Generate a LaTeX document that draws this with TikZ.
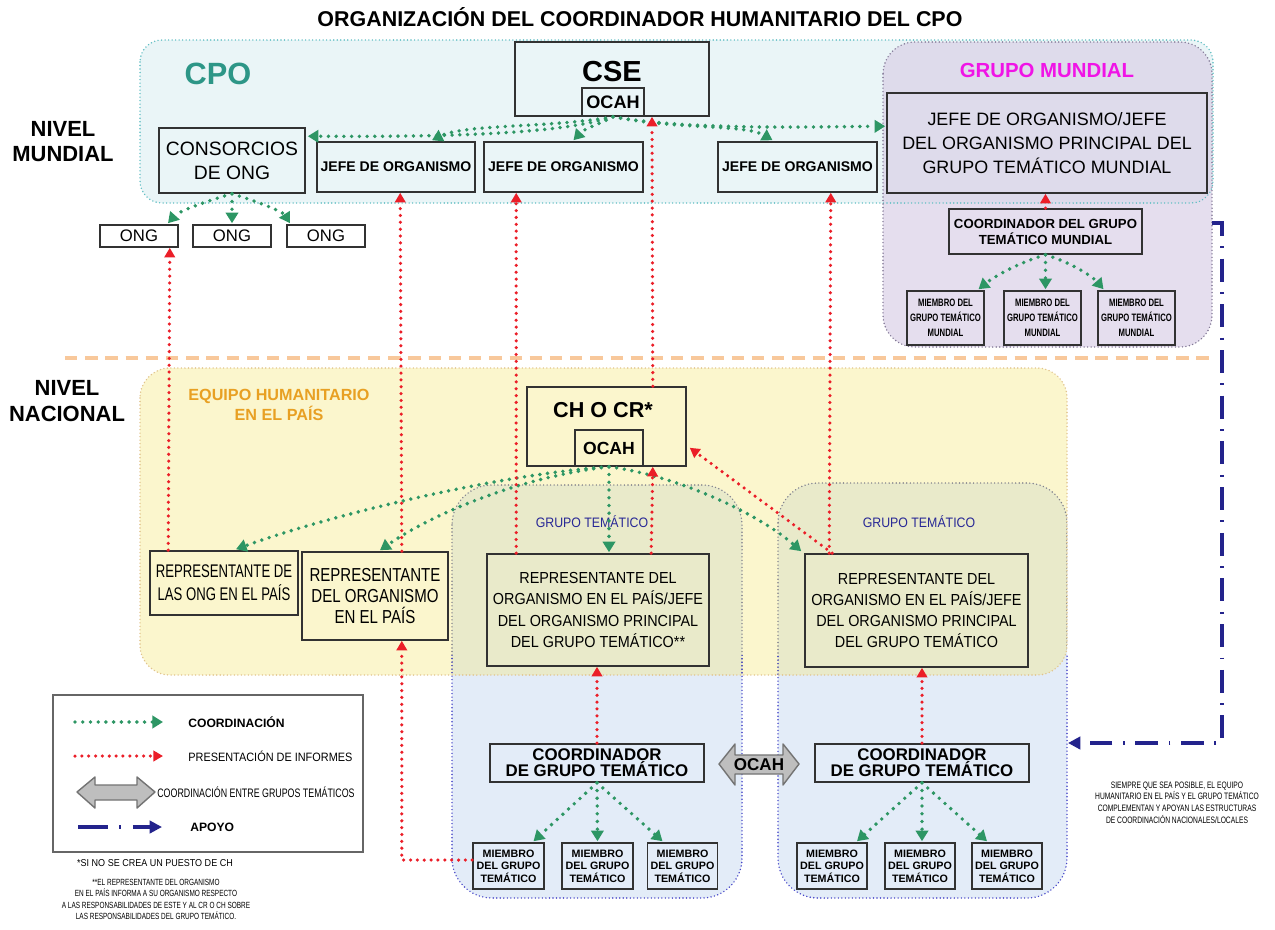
\documentclass[tikz,border=0pt]{standalone}
\usepackage{fontspec}
\setmainfont{Liberation Sans}
\newfontfamily\nA[FakeStretch=0.72]{Liberation Sans}
\newfontfamily\nB[FakeStretch=0.8]{Liberation Sans}
\newfontfamily\nC[FakeStretch=0.9]{Liberation Sans}
\usetikzlibrary{arrows.meta,calc}
\newcommand\fsz[2]{\fontsize{#1}{#2}\selectfont}
\definecolor{cpofill}{RGB}{234,245,247}
\definecolor{cpoborder}{RGB}{95,190,195}
\definecolor{cpotext}{RGB}{45,150,135}
\definecolor{gmfill}{RGB}{218,209,231}
\definecolor{gmborder}{RGB}{130,120,150}
\definecolor{gmtext}{RGB}{240,20,230}
\definecolor{yfill}{RGB}{251,246,205}
\definecolor{yborder}{RGB}{225,195,140}
\definecolor{ytext}{RGB}{232,160,35}
\definecolor{gtfill}{RGB}{227,236,248}
\definecolor{gtolive}{RGB}{233,234,202}
\definecolor{gtborderY}{RGB}{130,130,140}
\definecolor{gtborderB}{RGB}{70,70,200}
\definecolor{gttext}{RGB}{40,40,150}
\definecolor{cgreen}{RGB}{45,150,100}
\definecolor{cred}{RGB}{235,30,40}
\definecolor{cnavy}{RGB}{35,35,140}
\definecolor{sepc}{RGB}{248,200,155}
\definecolor{boxc}{RGB}{50,50,50}
\definecolor{arrowgray}{RGB}{190,190,190}
\tikzset{
  sz/.style 2 args={minimum width=#1*0.02cm, minimum height=#2*0.02cm},
  box/.style={draw=boxc, line width=0.9pt, inner sep=0pt, align=center},
  cdot/.style={line width=0.9pt, line cap=round, dash pattern=on 0pt off 2pt},
  gr/.style={cgreen, line width=2.2pt, line cap=round, dash pattern=on 0pt off 4.4pt, -{Triangle[length=6pt,width=7pt]}},
  rd/.style={cred, line width=2pt, line cap=round, dash pattern=on 0pt off 3.9pt, -{Triangle[length=5.5pt,width=6pt]}},
  ap/.style={cnavy, line width=2pt, dash pattern=on 13pt off 6pt on 1pt off 6pt, -{Triangle[length=7pt,width=7pt]}},
  sepline/.style={sepc, line width=1.8pt, dash pattern=on 7pt off 4.5pt},
  txt/.style={inner sep=0pt, align=center},
  dblarrow/.style={fill=arrowgray, draw=black!55, line width=0.8pt, line join=round}
}
\begin{document}
\begin{tikzpicture}[x=0.02cm, y=-0.02cm]
\useasboundingbox (0,0) rectangle (1275,930);
\fill[white] (0,0) rectangle (1275,930);

% ---------------- containers ----------------
\fill[cpofill, rounded corners=0.44cm] (140,40) rectangle (1213,203);
\fill[gmfill, fill opacity=0.7, rounded corners=0.64cm] (883,42) rectangle (1212,347);
\draw[cpoborder, cdot, rounded corners=0.44cm] (140,40) rectangle (1213,203);
\draw[gmborder, cdot, rounded corners=0.64cm] (883,42) rectangle (1212,347);

\draw[sepline] (65,358) -- (1215,358);

\fill[yfill, rounded corners=0.6cm] (140,368) rectangle (1067,675);
\fill[gtfill, rounded corners=0.8cm] (452,485) rectangle (742,898);
\fill[gtfill, rounded corners=0.8cm] (778,483) rectangle (1067,898);
\begin{scope}
  \clip[rounded corners=0.6cm] (140,368) rectangle (1067,675);
  \fill[gtolive, rounded corners=0.8cm] (452,485) rectangle (742,898);
  \fill[gtolive, rounded corners=0.8cm] (778,483) rectangle (1067,898);
  \draw[gtborderY, cdot, rounded corners=0.8cm] (452,485) rectangle (742,898);
  \draw[gtborderY, cdot, rounded corners=0.8cm] (778,483) rectangle (1067,898);
\end{scope}
\begin{scope}
  \clip (0,655) rectangle (1275,930);
  \draw[gtborderB, cdot, rounded corners=0.8cm] (452,485) rectangle (742,898);
  \draw[gtborderB, cdot, rounded corners=0.8cm] (778,483) rectangle (1067,898);
\end{scope}
\draw[yborder, cdot, rounded corners=0.6cm] (140,368) rectangle (1067,675);

% ---------------- labels ----------------
\node[txt, font=\fsz{12.2}{14}\bfseries] (title) at (640,17) {ORGANIZACIÓN DEL COORDINADOR HUMANITARIO DEL CPO};
\node[txt, font=\fsz{12.5}{14.2}\bfseries] (nivelm) at (63,142) {NIVEL\\MUNDIAL};
\node[txt, font=\fsz{12.5}{14.8}\bfseries] (niveln) at (67,401) {NIVEL\\NACIONAL};
\node[txt, font=\fsz{17.5}{20}\bfseries, text=cpotext] (cpolbl) at (218,74) {CPO};
\node[txt, font=\fsz{11.6}{13}\bfseries, text=gmtext] (gmlbl) at (1047,70) {GRUPO MUNDIAL};
\node[txt, font=\fsz{9.2}{11.4}\bfseries, text=ytext] (ehplbl) at (279,405) {EQUIPO HUMANITARIO\\EN EL PAÍS};
\node[txt, font=\nC\fsz{7.8}{9}, text=gttext] (gtlblL) at (592,522) {GRUPO TEMÁTICO};
\node[txt, font=\nC\fsz{7.8}{9}, text=gttext] (gtlblR) at (919,522) {GRUPO TEMÁTICO};

% ---------------- global level ----------------
\node[box, sz={194}{74}] (cse) at (612,79) {};
\node[txt, font=\fsz{16.5}{18}\bfseries] (csetxt) at (612,72) {CSE};
\node[box, sz={62}{28}, font=\fsz{10.3}{12}\bfseries] (cseocah) at (613,102) {OCAH};
\node[box, sz={146}{65}, font=\fsz{11}{13.7}] (cons) at (232,160.5) {CONSORCIOS\\DE ONG};
\node[box, sz={158}{50}, font=\fsz{8}{10}\bfseries] (jefe1) at (396,167) {JEFE DE ORGANISMO};
\node[box, sz={159}{50}, font=\fsz{8}{10}\bfseries] (jefe2) at (563.5,167) {JEFE DE ORGANISMO};
\node[box, sz={159}{50}, font=\fsz{8}{10}\bfseries] (jefe3) at (797.5,167) {JEFE DE ORGANISMO};
\node[box, fill=white, sz={78}{22}, font=\fsz{9.5}{11}] (ong1) at (139,236) {ONG};
\node[box, fill=white, sz={78}{22}, font=\fsz{9.5}{11}] (ong2) at (232,236) {ONG};
\node[box, fill=white, sz={78}{22}, font=\fsz{9.5}{11}] (ong3) at (326,236) {ONG};
\node[box, sz={320}{100}, font=\fsz{10.2}{13.7}] (jefeM) at (1047,143) {JEFE DE ORGANISMO/JEFE\\DEL ORGANISMO PRINCIPAL DEL\\GRUPO TEMÁTICO MUNDIAL};
\node[box, sz={193}{45}, font=\fsz{7.5}{9.1}\bfseries] (coordM) at (1045.5,231.5) {COORDINADOR DEL GRUPO\\TEMÁTICO MUNDIAL};
\node[box, sz={77}{54}, font=\nA\fsz{6.1}{8.5}\bfseries] (memM1) at (945.5,318) {MIEMBRO DEL\\GRUPO TEMÁTICO\\MUNDIAL};
\node[box, sz={77}{54}, font=\nA\fsz{6.1}{8.5}\bfseries] (memM2) at (1042.5,318) {MIEMBRO DEL\\GRUPO TEMÁTICO\\MUNDIAL};
\node[box, sz={77}{54}, font=\nA\fsz{6.1}{8.5}\bfseries] (memM3) at (1136.5,318) {MIEMBRO DEL\\GRUPO TEMÁTICO\\MUNDIAL};

% ---------------- national level ----------------
\node[box, sz={159}{79}] (chcr) at (606.5,426.5) {};
\node[txt, font=\fsz{12.3}{14}\bfseries] (chcrtxt) at (603,410) {CH O CR*};
\node[box, sz={68}{36}, font=\fsz{10}{12}\bfseries] (chocah) at (609,448) {OCAH};
\node[box, sz={148}{64}, font=\nA\fsz{10.4}{13}] (repong) at (224,583) {REPRESENTANTE DE\\LAS ONG EN EL PAÍS};
\node[box, sz={146}{88}, font=\nB\fsz{10.7}{12.2}] (reporg) at (375,596) {REPRESENTANTE\\DEL ORGANISMO\\EN EL PAÍS};
\node[box, sz={222}{112}, font=\nC\fsz{9.1}{12.1}] (repL) at (598,610) {REPRESENTANTE DEL\\ORGANISMO EN EL PAÍS/JEFE\\DEL ORGANISMO PRINCIPAL\\DEL GRUPO TEMÁTICO**};
\node[box, sz={223}{113}, font=\nC\fsz{9.1}{12.1}] (repR) at (916.5,610.5) {REPRESENTANTE DEL\\ORGANISMO EN EL PAÍS/JEFE\\DEL ORGANISMO PRINCIPAL\\DEL GRUPO TEMÁTICO};
\node[box, sz={214}{38}, font=\fsz{9.6}{9.1}\bfseries] (coordL) at (597,763) {COORDINADOR\\DE GRUPO TEMÁTICO};
\node[box, sz={214}{38}, font=\fsz{9.6}{9.1}\bfseries] (coordR) at (922,763) {COORDINADOR\\DE GRUPO TEMÁTICO};
\node[box, sz={71}{46}, font=\fsz{6.1}{7.1}\bfseries] (memL1) at (508.5,866) {MIEMBRO\\DEL GRUPO\\TEMÁTICO};
\node[box, sz={71}{46}, font=\fsz{6.1}{7.1}\bfseries] (memL2) at (597.5,866) {MIEMBRO\\DEL GRUPO\\TEMÁTICO};
\node[box, sz={70}{46}, font=\fsz{6.1}{7.1}\bfseries] (memL3) at (682.5,866) {MIEMBRO\\DEL GRUPO\\TEMÁTICO};
\node[box, sz={70}{46}, font=\fsz{6.1}{7.1}\bfseries] (memR1) at (832,866) {MIEMBRO\\DEL GRUPO\\TEMÁTICO};
\node[box, sz={70}{46}, font=\fsz{6.1}{7.1}\bfseries] (memR2) at (920,866) {MIEMBRO\\DEL GRUPO\\TEMÁTICO};
\node[box, sz={70}{46}, font=\fsz{6.1}{7.1}\bfseries] (memR3) at (1007,866) {MIEMBRO\\DEL GRUPO\\TEMÁTICO};

% OCAH double arrow between cluster coordinators
\draw[dblarrow] (719,764) -- (735,744) -- (735,755) -- (783,755) -- (783,744) -- (799,764)
  -- (783,785) -- (783,774) -- (735,774) -- (735,785) -- cycle;
\node[txt, font=\fsz{9.7}{11}\bfseries] (ocaharrow) at (759,765) {OCAH};

% ---------------- green (coordination) ----------------
\draw[gr] (cseocah.south) .. controls (560,134) and (450,137) .. ($(cons.north east)+(2,9)$);
\draw[gr] (cseocah.south) .. controls (550,128) and (465,124) .. ($(jefe1.north)+(36,-1)$);
\draw[gr] (cseocah.south) .. controls (600,124) and (585,128) .. ($(jefe2.north)+(10,-1)$);
\draw[gr] (cseocah.south) .. controls (680,130) and (745,124) .. ($(jefe3.north)+(-25,-1)$);
\draw[gr] (cseocah.south) .. controls (690,130) and (800,127) .. ($(jefeM.north west)+(-1,34)$);

\draw[gr] (cons.south) .. controls (200,203) and (178,212) .. ($(ong1.north)+(29,-1)$);
\draw[gr] (cons.south) -- ($(ong2.north)+(0,-1)$);
\draw[gr] (cons.south) .. controls (262,203) and (283,212) .. ($(ong3.north)+(-36,-1)$);

\draw[gr] (coordM.south) .. controls (1020,262) and (995,276) .. ($(memM1.north)+(33,-1)$);
\draw[gr] (coordM.south) -- ($(memM2.north)+(3,-1)$);
\draw[gr] (coordM.south) .. controls (1070,262) and (1092,276) .. ($(memM3.north)+(-33,-1)$);

\draw[gr] (chocah.south) .. controls (500,474) and (330,515) .. ($(repong.north)+(12,-1)$);
\draw[gr] (chocah.south) .. controls (525,476) and (435,512) .. ($(reporg.north)+(5,-1)$);
\draw[gr] (chocah.south) -- ($(repL.north)+(11,-1)$);
\draw[gr] (chocah.south) .. controls (680,476) and (760,515) .. ($(repR.north west)+(-3,-2)$);

\draw[gr] (coordL.south) -- ($(memL1.north)+(25,-1)$);
\draw[gr] (coordL.south) -- ($(memL2.north)+(0,-1)$);
\draw[gr] (coordL.south) -- ($(memL3.north)+(-20,-1)$);
\draw[gr] (coordR.south) -- ($(memR1.north)+(25,-1)$);
\draw[gr] (coordR.south) -- ($(memR2.north)+(2,-1)$);
\draw[gr] (coordR.south) -- ($(memR3.north)+(-20,-1)$);

% ---------------- red (reporting) ----------------
\draw[rd] ($(repong.north west)+(19,0)$) -- ($(ong1.south east)+(-9,0)$);
\draw[rd] ($(reporg.north east)+(-47,0)$) -- ($(jefe1.south west)+(84,0)$);
\draw[rd] ($(repL.north west)+(30,0)$) -- ($(jefe2.south west)+(33,0)$);
\draw[rd] ($(chcr.north east)+(-34,0)$) -- ($(cse.south)+(40,0)$);
\draw[rd] ($(repL.north west)+(165,0)$) -- ($(chcr.south east)+(-34,0)$);
\draw[rd] ($(repR.north west)+(25,0)$) -- ($(jefe3.south east)+(-47,0)$);
\draw[rd] ($(repR.north west)+(28,0)$) -- ($(chcr.south east)+(3,-19)$);
\draw[rd] (coordL.north) -- (coordL.north |- repL.south);
\draw[rd] (coordR.north) -- (coordR.north |- repR.south);
\draw[rd] ($(memL1.west)+(0,-6)$) -| ($(reporg.south east)+(-47,0)$);
\draw[rd] (coordM.north) -- (coordM.north |- jefeM.south);

% ---------------- support (apoyo) ----------------
\coordinate (apoyoStart) at (1212,223);
\coordinate (apoyoEnd) at (1068,743);
\draw[ap] (apoyoStart) -- (1222,223) -- (1222,743) -- (apoyoEnd);

% ---------------- legend ----------------
\node[draw=black!60, line width=0.9pt, fill=white, sz={310}{157}] (legend) at (208,773.5) {};
\coordinate (lgA1) at (75,722); \coordinate (lgB1) at (163,722);
\draw[gr] (lgA1) -- (lgB1);
\node[txt, anchor=west, font=\fsz{6.9}{8}\bfseries] (lgt1) at (188,722) {COORDINACIÓN};
\coordinate (lgA2) at (75,756); \coordinate (lgB2) at (163,756);
\draw[rd] (lgA2) -- (lgB2);
\node[txt, anchor=west, font=\nC\fsz{6.9}{8}] (lgt2) at (188,756) {PRESENTACIÓN DE INFORMES};
\draw[dblarrow] (77,792) -- (95,777) -- (95,785) -- (137,785) -- (137,777) -- (155,792)
  -- (137,808) -- (137,800) -- (95,800) -- (95,808) -- cycle;
\node[txt, anchor=west, font=\nA\fsz{7}{8}] (lgt3) at (157,792) {COORDINACIÓN ENTRE GRUPOS TEMÁTICOS};
\coordinate (lgA4) at (78,827); \coordinate (lgB4) at (162,827);
\draw[cnavy, line width=2.2pt, dash pattern=on 17pt off 6.5pt on 1.2pt off 6.5pt, -{Triangle[length=7pt,width=7pt]}] (lgA4) -- (lgB4);
\node[txt, anchor=west, font=\fsz{6.9}{8}\bfseries] (lgt4) at (190,827) {APOYO};

% ---------------- notes ----------------
\node[txt, font=\nC\fsz{5.7}{6.6}] (fn1) at (155,863) {*SI NO SE CREA UN PUESTO DE CH};
\node[txt, font=\nA\fsz{5.1}{6.6}] (fn2) at (156,899.5) {**EL REPRESENTANTE DEL ORGANISMO\\EN EL PAÍS INFORMA A SU ORGANISMO RESPECTO\\A LAS RESPONSABILIDADES DE ESTE Y AL CR O CH SOBRE\\LAS RESPONSABILIDADES DEL GRUPO TEMÁTICO.};
\node[txt, font=\nA\fsz{5.3}{6.6}] (note) at (1177,802.5) {SIEMPRE QUE SEA POSIBLE, EL EQUIPO\\HUMANITARIO EN EL PAÍS Y EL GRUPO TEMÁTICO\\COMPLEMENTAN Y APOYAN LAS ESTRUCTURAS\\DE COORDINACIÓN NACIONALES/LOCALES};
\end{tikzpicture}
\end{document}
